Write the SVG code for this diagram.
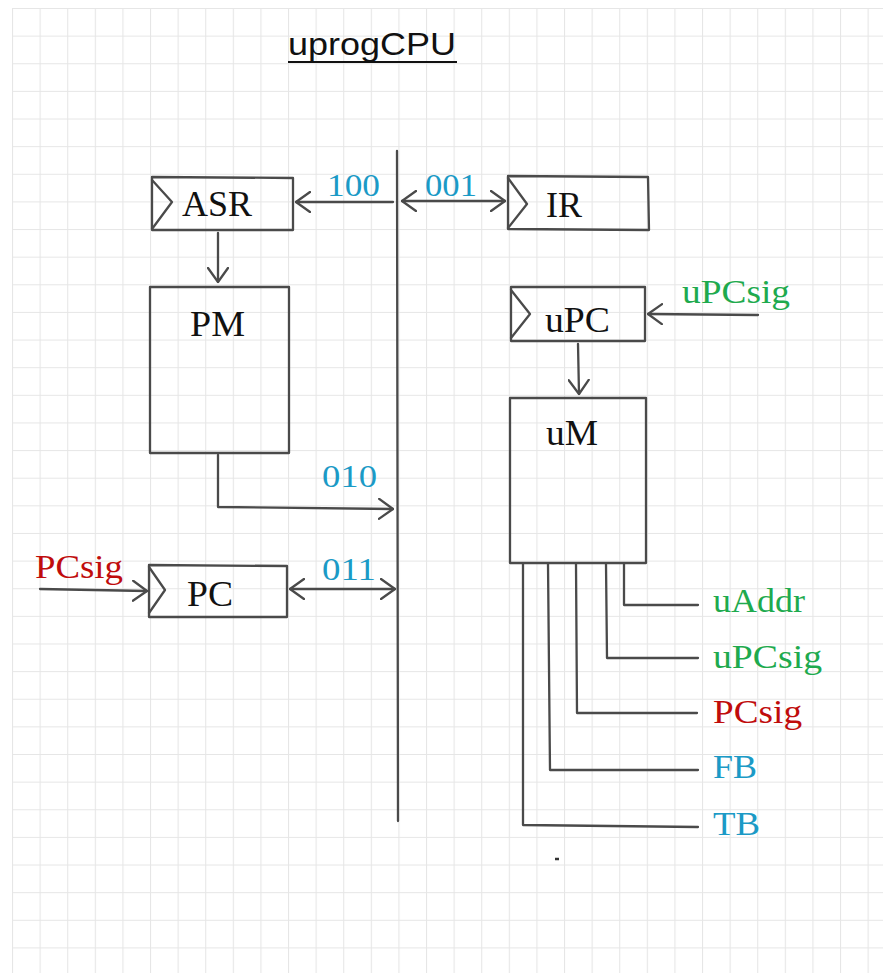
<svg xmlns="http://www.w3.org/2000/svg" width="883" height="973" viewBox="0 0 883 973">
  <style>
    .ln { fill: none; stroke: #4a4a4a; stroke-width: 2.3; stroke-linecap: round; stroke-linejoin: round; }
    .box { fill: none; stroke: #4a4a4a; stroke-width: 2.3; stroke-linejoin: round; }
    .lbl { font-family: "Liberation Serif", "DejaVu Serif", serif; font-size: 35px; fill: #111; }
    .cy { font-family: "Liberation Serif", "DejaVu Serif", serif; font-size: 31px; fill: #1b9ac6; }
    .sig { font-family: "Liberation Serif", "DejaVu Serif", serif; font-size: 34px; }
    .gr { fill: #1eaa4e; }
    .rd { fill: #c00c0c; }
    .bl { fill: #1b9ac6; }
    .title { font-family: "Liberation Sans", Arial, sans-serif; font-size: 31px; fill: #111; }
  </style>
  <defs>
    <pattern id="grid" patternUnits="userSpaceOnUse" x="12" y="8" width="27.6" height="27.63">
      <path d="M0,0.5 H27.6 M0.5,0 V27.63" fill="none" stroke="#e6e6e6" stroke-width="1.2"/>
    </pattern>
    <marker id="ah" markerUnits="userSpaceOnUse" viewBox="0 0 16 22" refX="15" refY="11" markerWidth="16" markerHeight="22" orient="auto-start-reverse">
      <path d="M1,1 L15,11 L1,21" fill="none" stroke="#4a4a4a" stroke-width="2.3" stroke-linecap="round" stroke-linejoin="round"/>
    </marker>
  </defs>

  <rect x="0" y="0" width="883" height="973" fill="#ffffff"/>
  <rect x="12" y="8" width="871" height="965" fill="url(#grid)"/>

  <g id="title">
    <text class="title" x="288" y="55" textLength="168" lengthAdjust="spacingAndGlyphs">uprogCPU</text>
    <line x1="288" y1="62" x2="457" y2="62" stroke="#111" stroke-width="2.2"/>
  </g>

  <g id="bus">
    <path class="ln" d="M397,151 L398,821"/>
  </g>

  <g id="ASR">
    <path class="box" d="M152,177 L293,178 L293,230 L152,230 Z"/>
    <path class="ln" d="M152,180 L172,202 L152,229"/>
    <text class="lbl" x="182" y="216" textLength="70" lengthAdjust="spacingAndGlyphs">ASR</text>
  </g>

  <g id="IR">
    <path class="box" d="M508,176 L648,177 L649,230 L508,229 Z"/>
    <path class="ln" d="M508,178 L527,204 L508,228"/>
    <text class="lbl" x="546" y="217" textLength="36" lengthAdjust="spacingAndGlyphs">IR</text>
  </g>

  <g id="PM">
    <path class="box" d="M150,287 L289,287 L289,453 L150,453 Z"/>
    <text class="lbl" x="190" y="336" textLength="55" lengthAdjust="spacingAndGlyphs">PM</text>
  </g>

  <g id="PC">
    <path class="box" d="M149,565 L287,566 L287,617 L149,617 Z"/>
    <path class="ln" d="M149,567 L165,590 L149,613"/>
    <text class="lbl" x="187" y="606" textLength="46" lengthAdjust="spacingAndGlyphs">PC</text>
  </g>

  <g id="uPC">
    <path class="box" d="M511,287 L645,287 L645,341 L511,341 Z"/>
    <path class="ln" d="M511,290 L530,314 L511,338"/>
    <text class="lbl" x="545" y="332" textLength="65" lengthAdjust="spacingAndGlyphs">uPC</text>
  </g>

  <g id="uM">
    <path class="box" d="M510,398 L646,398 L646,563 L510,563 Z"/>
    <text class="lbl" x="546" y="445" textLength="52" lengthAdjust="spacingAndGlyphs">uM</text>
  </g>

  <g id="connectors">
    <path class="ln" d="M393,202 L296,202" marker-end="url(#ah)"/>
    <path class="ln" d="M402,201 L505,201" marker-start="url(#ah)" marker-end="url(#ah)"/>
    <path class="ln" d="M218,233 L218,282" marker-end="url(#ah)"/>
    <path class="ln" d="M218,455 L218,507 L393,509" marker-end="url(#ah)"/>
    <path class="ln" d="M290,589 L395,589" marker-start="url(#ah)" marker-end="url(#ah)"/>
    <path class="ln" d="M40,589 L147,591" marker-end="url(#ah)"/>
    <path class="ln" d="M758,315 L648,314" marker-end="url(#ah)"/>
    <path class="ln" d="M578,344 L579,394" marker-end="url(#ah)"/>
    <path class="ln" d="M523,564 L523,825 L698,827"/>
    <path class="ln" d="M548,564 L550,770 L698,770"/>
    <path class="ln" d="M576,564 L577,713 L697,713"/>
    <path class="ln" d="M606,564 L607,658 L698,658"/>
    <path class="ln" d="M624,564 L624,605 L698,605"/>
  </g>

  <g id="bus-labels">
    <text class="cy" x="327" y="196" textLength="53" lengthAdjust="spacingAndGlyphs">100</text>
    <text class="cy" x="425" y="196" textLength="52" lengthAdjust="spacingAndGlyphs">001</text>
    <text class="cy" x="322" y="487" textLength="55" lengthAdjust="spacingAndGlyphs">010</text>
    <text class="cy" x="322" y="580" textLength="54" lengthAdjust="spacingAndGlyphs">011</text>
  </g>

  <g id="signal-labels">
    <text class="sig gr" x="682" y="303" textLength="108" lengthAdjust="spacingAndGlyphs">uPCsig</text>
    <text class="sig rd" x="35" y="578" textLength="88" lengthAdjust="spacingAndGlyphs">PCsig</text>
    <text class="sig gr" x="713" y="612" textLength="92" lengthAdjust="spacingAndGlyphs">uAddr</text>
    <text class="sig gr" x="713" y="668" textLength="109" lengthAdjust="spacingAndGlyphs">uPCsig</text>
    <text class="sig rd" x="713" y="723" textLength="89" lengthAdjust="spacingAndGlyphs">PCsig</text>
    <text class="sig bl" x="713" y="778" textLength="44" lengthAdjust="spacingAndGlyphs">FB</text>
    <text class="sig bl" x="713" y="835" textLength="47" lengthAdjust="spacingAndGlyphs">TB</text>
  </g>

  <line x1="555" y1="859" x2="559" y2="859" stroke="#333" stroke-width="2.5"/>
</svg>
